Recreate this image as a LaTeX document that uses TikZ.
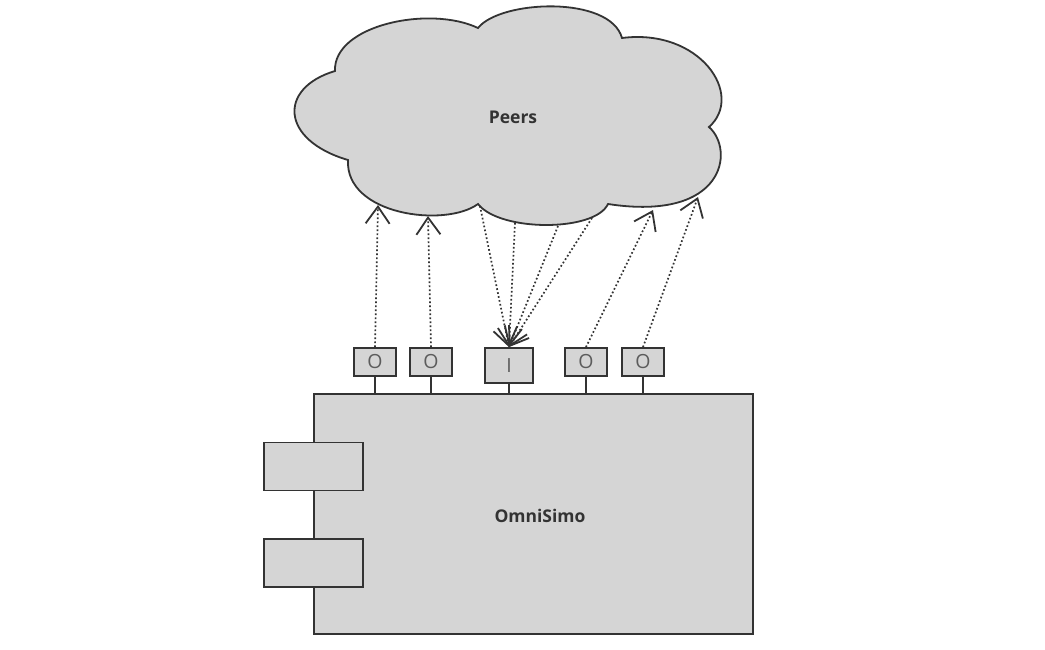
\documentclass[tikz,border=0pt]{standalone}
\usepackage{fontspec}
\setmainfont{Open Sans}
\usetikzlibrary{arrows.meta}
\definecolor{fillg}{HTML}{D5D5D5}
\definecolor{strokeg}{HTML}{333333}
\definecolor{textg}{HTML}{333333}
\begin{document}
\begin{tikzpicture}[x=1pt,y=-1pt,
  shapeline/.style={draw=strokeg,line width=1.8pt,fill=fillg},
  portbox/.style={shapeline,minimum width=42pt,minimum height=28pt,inner sep=0pt,
     font=\fontsize{19.5pt}{20pt}\selectfont\color{textg!80}},
  inbox/.style={portbox,minimum width=48pt,minimum height=35pt},
  sidebox/.style={shapeline,minimum width=99pt,minimum height=48pt,inner sep=0pt},
  mainbox/.style={shapeline,minimum width=439pt,minimum height=240pt,inner sep=0pt},
  biglabel/.style={font=\fontsize{17.5pt}{19pt}\selectfont\bfseries,text=textg},
  stem/.style={draw=strokeg,line width=1.8pt},
  flow/.style={draw=strokeg,line width=1.7pt,dash pattern=on 1.7pt off 2.3pt,
     -{Straight Barb[length=17pt,width=24pt,line width=1.8pt]}}]
\useasboundingbox (0,0) rectangle (1045,649);

% cloud
\draw[shapeline] (335,71)
  .. controls (333,25) and (430,5) .. (478,28)
  .. controls (500,0) and (610,-5) .. (622,38)
  .. controls (700,28) and (745,95) .. (709,127)
  .. controls (735,150) and (725,222) .. (608,204)
  .. controls (595,232) and (500,232) .. (478,204)
  .. controls (445,228) and (345,215) .. (348,160)
  .. controls (280,140) and (278,88) .. (335,71) -- cycle;
\node[biglabel] (peers) at (513,117) {Peers};

% cloud attachment points
\coordinate (c1) at (378,205);
\coordinate (c2) at (428,216);
\coordinate (c3) at (480,206);
\coordinate (c4) at (515,223);
\coordinate (c5) at (558,226);
\coordinate (c6) at (592,218);
\coordinate (c7) at (653,210);
\coordinate (c8) at (698,197);

% main component
\node[mainbox] (main) at (533.5,514) {};
\node[biglabel] (mainlabel) at (540,516) {OmniSimo};
\node[sidebox] (s1) at (313.5,466.5) {};
\node[sidebox] (s2) at (313.5,563) {};

% ports
\node[portbox] (o1) at (375,362) {O};
\node[portbox] (o2) at (431,362) {O};
\node[inbox] (i1) at (509,365.5) {I};
\node[portbox] (o3) at (586,362) {O};
\node[portbox] (o4) at (643,362) {O};

% stems
\foreach \p in {o1,o2,i1,o3,o4}
  \draw[stem] (\p.south) -- (\p.south |- main.north);

% flows
\draw[flow] (o1.north) -- (c1);
\draw[flow] (o2.north) -- (c2);
\draw[flow] (o3.north) -- (c7);
\draw[flow] (o4.north) -- (c8);
\draw[flow] (c3) -- (i1.north);
\draw[flow] (c4) -- (i1.north);
\draw[flow] (c5) -- (i1.north);
\draw[flow] (c6) -- (i1.north);
\end{tikzpicture}
\end{document}
